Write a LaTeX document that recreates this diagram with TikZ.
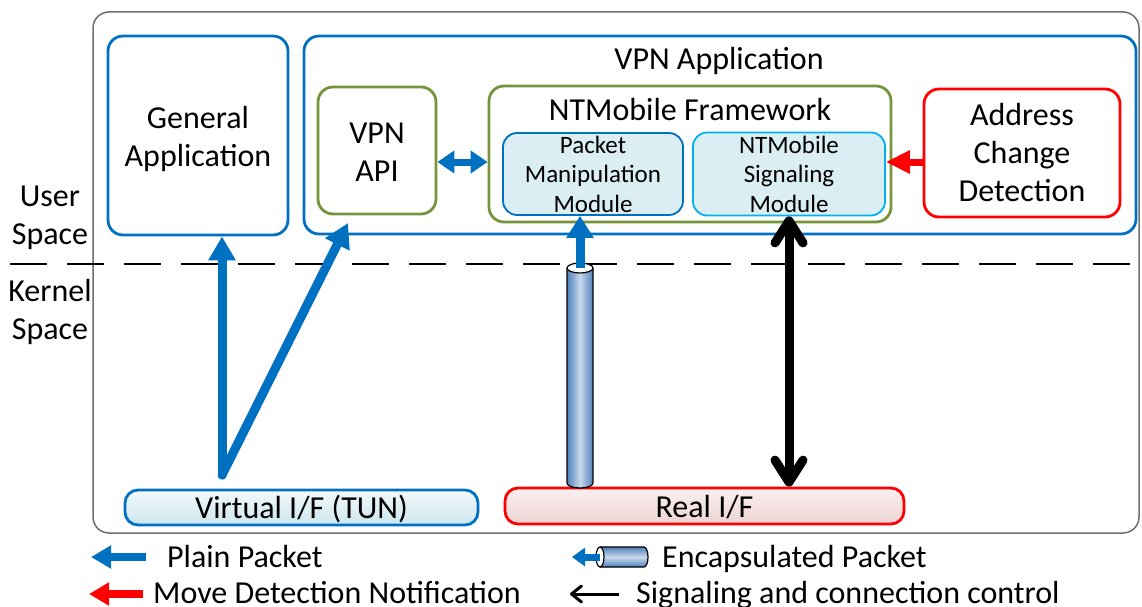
\documentclass[tikz,border=0pt]{standalone}
\usepackage{fontspec}
\setmainfont{Carlito}
\usetikzlibrary{arrows.meta}
\definecolor{cblue}{HTML}{0070C0}
\definecolor{cgreen}{HTML}{77933C}
\definecolor{cred}{HTML}{FF0000}
\definecolor{ccyan}{HTML}{00B0F0}
\definecolor{cmodfill}{HTML}{DAEEF3}
\definecolor{cgray}{HTML}{6E6E6E}
\definecolor{vtop}{HTML}{F2F9FB}
\definecolor{vbot}{HTML}{CDE6EE}
\definecolor{rtop}{HTML}{FBF1F1}
\definecolor{rbot}{HTML}{EDD3D3}
\definecolor{cyldark}{HTML}{4F81BD}
\definecolor{cyllight}{HTML}{C9D8EA}
\begin{document}
\begin{tikzpicture}[x=1pt,y=-1pt,
  big/.style={font=\fontsize{32}{38}\selectfont, align=center},
  small/.style={font=\fontsize{25}{29.5}\selectfont, align=center},
  box/.style={draw, rounded corners=15pt, line width=2.8pt, inner sep=0pt},
  bluebox/.style={box, draw=cblue},
  greenbox/.style={box, draw=cgreen},
  redbox/.style={box, draw=cred},
  modbox/.style={box, line width=1.8pt, fill=cmodfill, rounded corners=14pt},
  ifbox/.style={box, rounded corners=13pt},
  plain/.style={draw=cblue, line width=9pt, line cap=round, line join=round, -{Triangle[length=24pt,width=26pt]}},
  sig/.style={draw=black, line width=9pt, {Straight Barb[length=22pt,width=28pt,line cap=round,line join=round]}-{Straight Barb[length=22pt,width=28pt,line cap=round,line join=round]}},
  cylline/.style={draw=black, line width=1.2pt}
]
\useasboundingbox (0,0) rectangle (1142,607);

% outer frame
\node[draw=cgray, line width=1.5pt, rounded corners=16pt, minimum width=1046pt, minimum height=521pt] (outer) at (616,272.5) {};

% dashed separator
\coordinate (dl) at (10,264);
\coordinate (dr) at (1142,264);
\draw[line width=2.5pt, dash pattern=on 37pt off 20pt] (dl) -- (dr);

\node[big] (user) at (50,218) {User\\Space};
\node[big] (kernel) at (50,312) {Kernel\\Space};

% user-space boxes
\node[bluebox, minimum width=180pt, minimum height=199pt, label={[big,yshift=-3pt]center:General\\Application}] (genapp) at (198,135.5) {};
\node[bluebox, minimum width=832pt, minimum height=198pt] (vpnapp) at (720,135) {};
\node[big] (vpntitle) at (719,61) {VPN Application};
\node[greenbox, minimum width=118pt, minimum height=127pt, label={[big,yshift=-2pt]center:VPN\\API}] (vpnapi) at (377,150.5) {};
\node[greenbox, minimum width=402pt, minimum height=136pt] (ntm) at (690,154) {};
\node[big] (ntmtitle) at (690,110) {NTMobile Framework};
\node[modbox, draw=cblue, small, minimum width=180pt, minimum height=82pt] (pmm) at (593,174) {Packet\\Manipulation\\Module};
\node[modbox, draw=ccyan, small, minimum width=192pt, minimum height=83pt] (nsm) at (789,174) {NTMobile\\Signaling\\Module};
\node[redbox, big, minimum width=196pt, minimum height=128pt] (acd) at (1022,153) {Address\\Change\\Detection};

% interfaces
\node[ifbox, draw=cblue, top color=vtop, bottom color=vbot, minimum width=353pt, minimum height=35pt, label={[big,yshift=-1.5pt]center:Virtual I/F (TUN)}] (vif) at (301.5,507.5) {};
\node[ifbox, draw=cred, top color=rtop, bottom color=rbot, minimum width=399pt, minimum height=36pt, label={[big,yshift=-1pt]center:Real I/F}] (rif) at (704.5,506) {};

% plain packet arrows from TUN
\coordinate (vsrc) at (222,475);
\coordinate (apitip) at (348,223);
\draw[plain] (vsrc) -- (vsrc |- genapp.south);
\draw[plain] (vsrc) -- (apitip);

% VPN API <-> framework
\coordinate (ay) at (0,162);
\draw[draw=cblue, line width=7pt, {Triangle[length=17pt,width=22pt]}-{Triangle[length=17pt,width=22pt]}] (vpnapi.east |- ay) -- (ntm.west |- ay);

% address change -> signaling
\draw[draw=cred, line width=7pt, -{Triangle[length=24pt,width=22pt]}] (acd.west |- ay) -- (nsm.east |- ay);

% encapsulated tunnel (vertical cylinder)
\coordinate (cyltop) at (580,268);
\shade[left color=cyldark, right color=cyldark, middle color=cyllight] (567,268) -- (567,483) arc[start angle=180,end angle=0,x radius=13,y radius=5] -- (593,268) -- cycle;
\draw[cylline] (567,268) -- (567,483) arc[start angle=180,end angle=0,x radius=13,y radius=5] -- (593,268);
\draw[cylline, fill=white] (cyltop) ellipse[x radius=13, y radius=5];
\draw[draw=cblue, line width=9pt, -{Triangle[length=22pt,width=26pt]}] (cyltop) -- (cyltop |- pmm.south);

% signaling double arrow
\draw[sig] (nsm.south) -- (nsm.south |- rif.north);

% ---------------- legend
\coordinate (l1a) at (146,557);
\coordinate (l1b) at (91,557);
\draw[draw=cblue, line width=8pt, -{Triangle[length=20pt,width=22pt]}] (l1a) -- (l1b);
\node[big, anchor=base west, inner sep=0pt] (lplain) at (167,567) {Plain Packet};

\shade[top color=cyldark, bottom color=cyldark, middle color=cyllight] (600,547) -- (644,547) arc[start angle=-90,end angle=90,x radius=4,y radius=10] -- (600,567) -- cycle;
\draw[cylline] (600,547) -- (644,547) arc[start angle=-90,end angle=90,x radius=4,y radius=10] -- (600,567);
\coordinate (l2a) at (600,557);
\coordinate (l2b) at (572,557);
\draw[cylline, fill=white] (l2a) ellipse[x radius=4, y radius=10];
\draw[draw=cblue, line width=7pt, -{Triangle[length=13pt,width=18pt]}] (l2a) -- (l2b);
\node[big, anchor=base west, inner sep=0pt] (lenc) at (662,567) {Encapsulated Packet};

\coordinate (l3a) at (143,594);
\coordinate (l3b) at (89,594);
\draw[draw=cred, line width=8pt, -{Triangle[length=20pt,width=22pt]}] (l3a) -- (l3b);
\node[big, anchor=base west, inner sep=0pt] (lmove) at (153,603) {Move Detection Notification};

\coordinate (l4a) at (619,594);
\coordinate (l4b) at (570,594);
\draw[line width=3pt, -{Straight Barb[length=10pt,width=16pt,line cap=round,line join=round]}] (l4a) -- (l4b);
\node[big, anchor=base west, inner sep=0pt] (lsig) at (636,603) {Signaling and connection control};
\end{tikzpicture}
\end{document}
